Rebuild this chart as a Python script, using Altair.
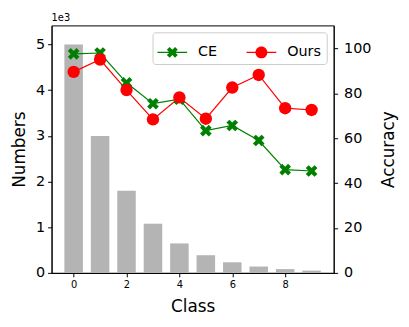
import math
import altair as alt
import pandas as pd

classes = list(range(10))
numbers = [5000, 2997, 1796, 1077, 645, 387, 232, 139, 83, 50]
ce_acc = [97.6, 98.0, 84.7, 75.4, 77.4, 63.4, 65.7, 59.0, 46.0, 45.4]
ours_acc = [89.6, 95.1, 81.5, 68.4, 78.2, 68.7, 82.6, 88.2, 73.4, 72.6]
models = ["CE", "Ours"]
colors = ["#008000", "#ff0000"]
x_ticks = [0, 2, 4, 6, 8]
left_ticks = [0, 1000, 2000, 3000, 4000, 5000]
right_ticks = [0, 20, 40, 60, 80, 100]

FONT = "DejaVu Sans"

bars_df = pd.DataFrame({"cls": classes, "num": numbers})
acc_df = pd.DataFrame({
    "cls": classes + classes,
    "acc": ce_acc + ours_acc,
    "model": [models[0]] * len(classes) + [models[1]] * len(classes),
})


def x_path(L, t):
    pts = [(-t, -L), (t, -L), (t, -t), (L, -t), (L, t), (t, t), (t, L),
           (-t, L), (-t, t), (-L, t), (-L, -t), (-t, -t)]
    s = 1 / math.sqrt(2)
    rp = [((x - y) * s, (x + y) * s) for x, y in pts]
    return "M" + " L".join(f"{x:.4f},{y:.4f}" for x, y in rp) + " Z"


def circle_path(r):
    return f"M{r},0 A{r},{r} 0 1,1 {-r},0 A{r},{r} 0 1,1 {r},0 Z"


line_seg = "M-1,-0.05 L1,-0.05 L1,0.05 L-1,0.05 Z"
marker_shapes = [x_path(1.0, 1.0 / 3), "circle"]
legend_shapes = [line_seg + " " + x_path(0.389, 0.13), line_seg + " " + circle_path(0.4)]

xscale = alt.Scale(domain=[-0.835, 9.835], nice=False, zero=False)
xaxis = alt.Axis(values=x_ticks, title="Class", labelFontSize=10, titleFontSize=17,
                 labelPadding=3, titlePadding=9, format="d")
yscale_r = alt.Scale(domain=[0, 110.3], nice=False)
yaxis_r = alt.Axis(orient="right", values=right_ticks, title="Accuracy", titleAngle=270,
                   titleBaseline="top", labelFontSize=14.5, titleFontSize=17,
                   labelPadding=6, titlePadding=10)

bars = alt.Chart(bars_df).transform_calculate(
    x0="datum.cls - 0.35", x1="datum.cls + 0.35"
).mark_bar(color="#b4b4b4").encode(
    x=alt.X("x0:Q", scale=xscale, axis=xaxis),
    x2="x1:Q",
    y=alt.Y("num:Q", scale=alt.Scale(domain=[0, 5420], nice=False),
            axis=alt.Axis(orient="left", values=left_ticks, labelExpr="datum.value / 1000",
                          title="Numbers", labelFontSize=14.5, titleFontSize=17,
                          labelPadding=3, titlePadding=7)),
    y2=alt.datum(0),
)

color_scale = alt.Scale(domain=models, range=colors)

lines = alt.Chart(acc_df).mark_line(strokeWidth=1.2).encode(
    x=alt.X("cls:Q", scale=xscale, axis=xaxis),
    y=alt.Y("acc:Q", scale=yscale_r, axis=yaxis_r),
    color=alt.Color("model:N", scale=color_scale, legend=None),
    detail="model:N",
)

points = alt.Chart(acc_df).mark_point(filled=True, opacity=1, size=156).encode(
    x=alt.X("cls:Q", scale=xscale, axis=xaxis),
    y=alt.Y("acc:Q", scale=yscale_r, axis=yaxis_r),
    color=alt.Color("model:N", scale=color_scale, legend=None),
    shape=alt.Shape("model:N", scale=alt.Scale(domain=models, range=marker_shapes), legend=None),
)

leg = alt.Legend(title=None, orient="top-right", offset=7, direction="horizontal", columns=2,
                 symbolSize=900, symbolOpacity=1, symbolStrokeWidth=0,
                 labelFont=FONT, labelFontSize=14.5, labelOffset=11, columnPadding=29,
                 padding=5, strokeColor="#cccccc", fillColor="rgba(255,255,255,0.8)",
                 cornerRadius=3, labelColor="black")

dummy = alt.Chart(acc_df).mark_point(filled=True, opacity=0, size=10).encode(
    x=alt.X("cls:Q", scale=xscale, axis=xaxis),
    y=alt.Y("acc:Q", scale=yscale_r, axis=yaxis_r),
    color=alt.Color("model:N", scale=alt.Scale(domain=models, range=colors), legend=leg),
    shape=alt.Shape("model:N", scale=alt.Scale(domain=models, range=legend_shapes), legend=leg),
)

inner = alt.layer(lines, points, dummy).resolve_scale(color="independent", shape="independent")

chart = alt.layer(bars, inner).resolve_scale(y="independent").properties(
    width=285, height=250,
    autosize=alt.AutoSizeParams(type="none"),
    padding={"left": 44, "top": 16, "right": 68, "bottom": 44},
    title=alt.TitleParams("1e3", anchor="start", frame="group", fontSize=10, font=FONT,
                          fontWeight="normal", baseline="bottom", offset=-8, color="black"),
).configure_view(stroke="black", strokeWidth=1).configure_axis(
    labelFont=FONT, titleFont=FONT, titleFontWeight="normal", labelColor="black",
    titleColor="black", tickColor="black", domainColor="black", tickSize=4, grid=False,
    domainWidth=1, tickWidth=1,
)

chart.save("out.html", embed_options={"renderer": "svg", "actions": False})
